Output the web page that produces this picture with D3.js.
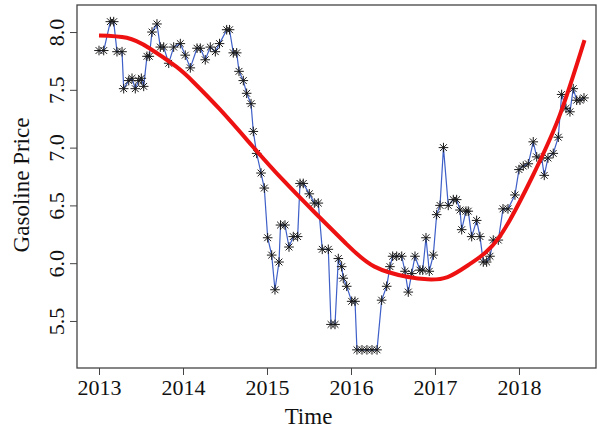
<!DOCTYPE html>
<html>
<head>
    <style>
        body { margin: 0; background: #fff; }
        svg text { font-family: "Liberation Serif", "Times New Roman", serif; fill: #111; }
    </style>
    <script src="https://d3js.org/d3.v7.min.js"></script>
</head>
<body>
    <svg width="597" height="432"></svg>
    <script>
        // observed prices (time in decimal years)
        var times = [2013.000, 2013.056, 2013.135, 2013.175, 2013.214, 2013.274, 2013.294, 2013.354, 2013.393, 2013.432,
            2013.473, 2013.504, 2013.532, 2013.571, 2013.599, 2013.631, 2013.690, 2013.730, 2013.770, 2013.830,
            2013.889, 2013.968, 2014.027, 2014.087, 2014.167, 2014.206, 2014.265, 2014.325, 2014.385, 2014.435,
            2014.520, 2014.554, 2014.599, 2014.639, 2014.667, 2014.718, 2014.758, 2014.810, 2014.837, 2014.877,
            2014.929, 2014.968, 2015.008, 2015.056, 2015.095, 2015.143, 2015.161, 2015.214, 2015.262, 2015.313,
            2015.365, 2015.393, 2015.432, 2015.504, 2015.563, 2015.611, 2015.658, 2015.730, 2015.762, 2015.810,
            2015.849, 2015.889, 2015.908, 2015.949, 2016.008, 2016.048, 2016.071, 2016.131, 2016.190, 2016.250,
            2016.310, 2016.365, 2016.425, 2016.464, 2016.496, 2016.544, 2016.604, 2016.643, 2016.682, 2016.723,
            2016.762, 2016.821, 2016.854, 2016.893, 2016.932, 2016.980, 2017.020, 2017.060, 2017.101, 2017.158,
            2017.218, 2017.258, 2017.298, 2017.318, 2017.369, 2017.396, 2017.437, 2017.496, 2017.536, 2017.575,
            2017.615, 2017.655, 2017.694, 2017.754, 2017.810, 2017.869, 2017.952, 2018.000, 2018.051, 2018.111,
            2018.170, 2018.211, 2018.270, 2018.301, 2018.345, 2018.408, 2018.468, 2018.508, 2018.560, 2018.607,
            2018.646, 2018.687, 2018.726, 2018.774];
        var prices = [7.84, 7.84, 8.09, 8.09, 7.83, 7.83, 7.51, 7.58, 7.60, 7.51,
            7.58, 7.60, 7.53, 7.79, 7.79, 8.00, 8.07, 7.87, 7.87, 7.73,
            7.87, 7.90, 7.80, 7.69, 7.86, 7.86, 7.76, 7.87, 7.83, 7.90,
            8.02, 8.02, 7.82, 7.82, 7.66, 7.58, 7.47, 7.38, 7.14, 6.95,
            6.78, 6.65, 6.22, 6.07, 5.77, 6.01, 6.33, 6.33, 6.14, 6.23,
            6.23, 6.69, 6.69, 6.60, 6.52, 6.52, 6.12, 6.12, 5.47, 5.47,
            6.04, 5.97, 5.87, 5.80, 5.67, 5.67, 5.25, 5.25, 5.25, 5.25,
            5.25, 5.68, 5.80, 5.97, 6.06, 6.06, 6.06, 5.93, 5.75, 5.91,
            6.06, 5.94, 5.94, 6.22, 5.93, 6.07, 6.42, 6.50, 7.00, 6.50,
            6.55, 6.55, 6.46, 6.29, 6.45, 6.45, 6.23, 6.37, 6.23, 6.01,
            6.01, 6.06, 6.20, 6.20, 6.47, 6.47, 6.59, 6.81, 6.84, 6.86,
            7.05, 6.92, 6.91, 6.76, 6.91, 6.95, 7.09, 7.46, 7.34, 7.31,
            7.51, 7.41, 7.41, 7.43];

        // fitted trend (red)
        var fitTimes = [2013.00, 2013.33, 2013.60, 2013.92, 2014.12, 2014.44, 2014.83, 2015.19, 2015.58, 2015.94,
            2016.28, 2016.68, 2016.91, 2017.15, 2017.43, 2017.77, 2018.16, 2018.48, 2018.78];
        var fitValues = [7.97, 7.95, 7.86, 7.70, 7.57, 7.33, 7.01, 6.72, 6.43, 6.17,
            5.97, 5.88, 5.86, 5.88, 6.00, 6.23, 6.75, 7.27, 7.93];

        var xTicks = [2013, 2014, 2015, 2016, 2017, 2018];
        var yTicks = [5.5, 6.0, 6.5, 7.0, 7.5, 8.0];

        var svg = d3.select("svg"),
            plotLeft = 77, plotRight = 596, plotTop = 5, plotBottom = 368;

        var x = d3.scaleLinear().domain([2012.738, 2018.917]).range([plotLeft, plotRight]);
        var y = d3.scaleLinear().domain([5.093, 8.234]).range([plotBottom, plotTop]);

        // frame
        svg.append("rect")
            .attr("x", plotLeft).attr("y", plotTop)
            .attr("width", plotRight - plotLeft).attr("height", plotBottom - plotTop)
            .attr("fill", "none").attr("stroke", "#444").attr("stroke-width", 1.3);

        var xAxis = svg.append("g")
            .attr("transform", "translate(0," + plotBottom + ")")
            .call(d3.axisBottom(x).tickValues(xTicks).tickFormat(d3.format("d")).tickSize(7).tickPadding(0));
        xAxis.select(".domain").remove();
        xAxis.selectAll("line").attr("stroke", "#444");
        xAxis.selectAll("text")
            .attr("font-size", "22px")
            .style("font-family", "Liberation Serif").attr("fill", "#111")
            .attr("y", 27).attr("dy", 0);

        var yAxis = svg.append("g")
            .attr("transform", "translate(" + plotLeft + ",0)")
            .call(d3.axisLeft(y).tickValues(yTicks).tickFormat(d3.format(".1f")).tickSize(7).tickPadding(0));
        yAxis.select(".domain").remove();
        yAxis.selectAll("line").attr("stroke", "#444");
        yAxis.selectAll("text")
            .attr("font-size", "22px")
            .style("font-family", "Liberation Serif").attr("fill", "#111")
            .attr("x", 0).attr("y", 0).attr("dy", 0)
            .attr("text-anchor", "middle")
            .attr("transform", "translate(-13,0) rotate(-90)");

        svg.append("text")
            .attr("x", (plotLeft + plotRight) / 2 - 28)
            .attr("y", 424)
            .attr("text-anchor", "middle")
            .attr("font-size", "23px")
            .text("Time");

        svg.append("text")
            .attr("transform", "translate(29,185) rotate(-90)")
            .attr("text-anchor", "middle")
            .attr("font-size", "23px")
            .text("Gasoline Price");

        var pts = times.map(function (t, i) { return [t, prices[i]]; });

        svg.append("path")
            .datum(pts)
            .attr("fill", "none")
            .attr("stroke", "#3e5fc8")
            .attr("stroke-width", 1.2)
            .attr("d", d3.line().x(function (d) { return x(d[0]); }).y(function (d) { return y(d[1]); }));

        // pch 8 style asterisks
        var r = 4.8, k = r * 0.7071;
        var star = "M0," + (-r) + "V" + r + "M" + (-r) + ",0H" + r +
            "M" + (-k) + "," + (-k) + "L" + k + "," + k + "M" + (-k) + "," + k + "L" + k + "," + (-k);
        svg.append("g").selectAll("path")
            .data(pts)
            .enter().append("path")
            .attr("transform", function (d) { return "translate(" + x(d[0]) + "," + y(d[1]) + ")"; })
            .attr("d", star)
            .attr("stroke", "#1a1a1a")
            .attr("stroke-width", 1)
            .attr("fill", "none");

        var fit = fitTimes.map(function (t, i) { return [t, fitValues[i]]; });
        svg.append("path")
            .datum(fit)
            .attr("fill", "none")
            .attr("stroke", "#ee1111")
            .attr("stroke-width", 4)
            .attr("d", d3.line().curve(d3.curveNatural)
                .x(function (d) { return x(d[0]); }).y(function (d) { return y(d[1]); }));
    </script>
</body>
</html>
